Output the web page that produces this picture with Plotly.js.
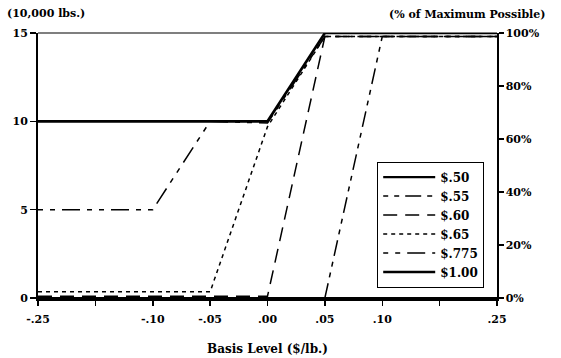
<!DOCTYPE html>
<html>
<head>
<meta charset="utf-8">
<script src="https://cdn.plot.ly/plotly-3.0.1.min.js"></script>
<style>html,body{margin:0;padding:0;background:#fff;}#chart{width:561px;height:358px;}</style>
</head>
<body>
<div id="chart"></div>
<script>
// Basis levels (category positions, equally spaced as in the original)
const categories = ["-.25", "-.15", "-.10", "-.05", ".00", ".05", ".10", ".15", ".25"];
const tickText   = ["-.25", "",     "-.10", "-.05", ".00", ".05", ".10", "",     ".25"];

// Hedge quantity (10,000 lbs.) per price level
const seriesNames = ["$.50", "$.55", "$.60", "$.65", "$.775", "$1.00"];
const s050  = [0, 0, 0, 0, 0, 0, 0, 0, 0];
const s055  = [0, 0, 0, 0, 0, 0, 14.8, 14.8, 14.8];
const s060  = [0.1, 0.1, 0.1, 0.1, 0.1, 14.8, 14.8, 14.8, 14.8];
const s065  = [0.35, 0.35, 0.35, 0.35, 9.7, 14.8, 14.8, 14.8, 14.8];
const s0775 = [5, 5, 5, 10, 9.9, 14.8, 14.8, 14.8, 14.8];
const s100  = [10, 10, 10, 10, 10, 15, 15, 15, 15];

const leftTicks  = [0, 5, 10, 15];
const rightTicks = [0, 20, 40, 60, 80, 100];
const rightText  = ["0%", "20%", "40%", "60%", "80%", "100%"];

const FONT = {family: "DejaVu Serif", size: 11, color: "#000", weight: "bold"};

const styles = [
  {width: 2.2, dash: "solid"},
  {width: 1.5, dash: "5px,6px,5px,6px,16px,6px"},
  {width: 1.5, dash: "14px,8px"},
  {width: 1.5, dash: "4px,4px"},
  {width: 1.5, dash: "5px,7px,5px,7px,18px,7px"},
  {width: 2.6, dash: "solid"}
];
const values = [s050, s055, s060, s065, s0775, s100];

const traces = values.map((v, i) => ({
  type: "scatter", mode: "lines",
  x: categories, y: v, name: seriesNames[i],
  line: {color: "#000", width: styles[i].width, dash: styles[i].dash},
  hoverinfo: "skip"
}));
// invisible trace to keep the right axis active
traces.push({type: "scatter", mode: "lines", x: categories, y: [0, 0, 0, 0, 0, 0, 0, 0, 0],
  yaxis: "y2", showlegend: false, line: {width: 0}, opacity: 0, hoverinfo: "skip"});

const layout = {
  width: 561, height: 358,
  margin: {l: 38, r: 64, t: 33, b: 60},
  paper_bgcolor: "#fff", plot_bgcolor: "#fff",
  font: FONT,
  showlegend: true,
  legend: {
    x: 0.739, y: 0.515, xanchor: "left", yanchor: "top",
    bordercolor: "#000", borderwidth: 1, bgcolor: "#fff",
    font: {family: "DejaVu Serif", size: 12, color: "#000", weight: "bold"},
    itemwidth: 52, tracegroupgap: 0
  },
  xaxis: {
    type: "category", categoryorder: "array", categoryarray: categories,
    range: [0, 8], tickvals: categories, ticktext: tickText,
    showgrid: false, zeroline: false,
    showline: true, linecolor: "#000", linewidth: 3,
    ticks: "outside", ticklen: 5, tickwidth: 1.5, tickcolor: "#000",
    ticklabelstandoff: 4,
    tickfont: FONT,
    title: {text: "Basis Level ($/lb.)", font: {family: "DejaVu Serif", size: 12, color: "#000", weight: "bold"}, standoff: 20},
    automargin: false
  },
  yaxis: {
    range: [0, 15], tickvals: leftTicks,
    showgrid: false, zeroline: false,
    showline: true, linecolor: "#000", linewidth: 2,
    ticks: "outside", ticklen: 6, tickwidth: 1.5, tickcolor: "#000",
    tickfont: FONT, automargin: false
  },
  yaxis2: {
    overlaying: "y", side: "right", range: [0, 100],
    tickvals: rightTicks, ticktext: rightText,
    showgrid: false, zeroline: false,
    showline: true, linecolor: "#000", linewidth: 1.5,
    ticks: "outside", ticklen: 5, tickwidth: 1.5, tickcolor: "#000",
    tickfont: FONT, automargin: false
  },
  shapes: [
    {type: "line", xref: "paper", yref: "paper", x0: 0, x1: 1, y0: 1, y1: 1,
     line: {color: "#000", width: 1.2}}
  ],
  annotations: [
    {text: "(10,000 lbs.)", xref: "paper", yref: "paper", x: -0.072, y: 1.075,
     xanchor: "left", yanchor: "middle", showarrow: false, font: FONT},
    {text: "(% of Maximum Possible)", xref: "paper", yref: "paper", x: 1.109, y: 1.068,
     xanchor: "right", yanchor: "middle", showarrow: false, font: FONT}
  ]
};

Plotly.newPlot("chart", traces, layout, {displayModeBar: false, staticPlot: true});
</script>
</body>
</html>
